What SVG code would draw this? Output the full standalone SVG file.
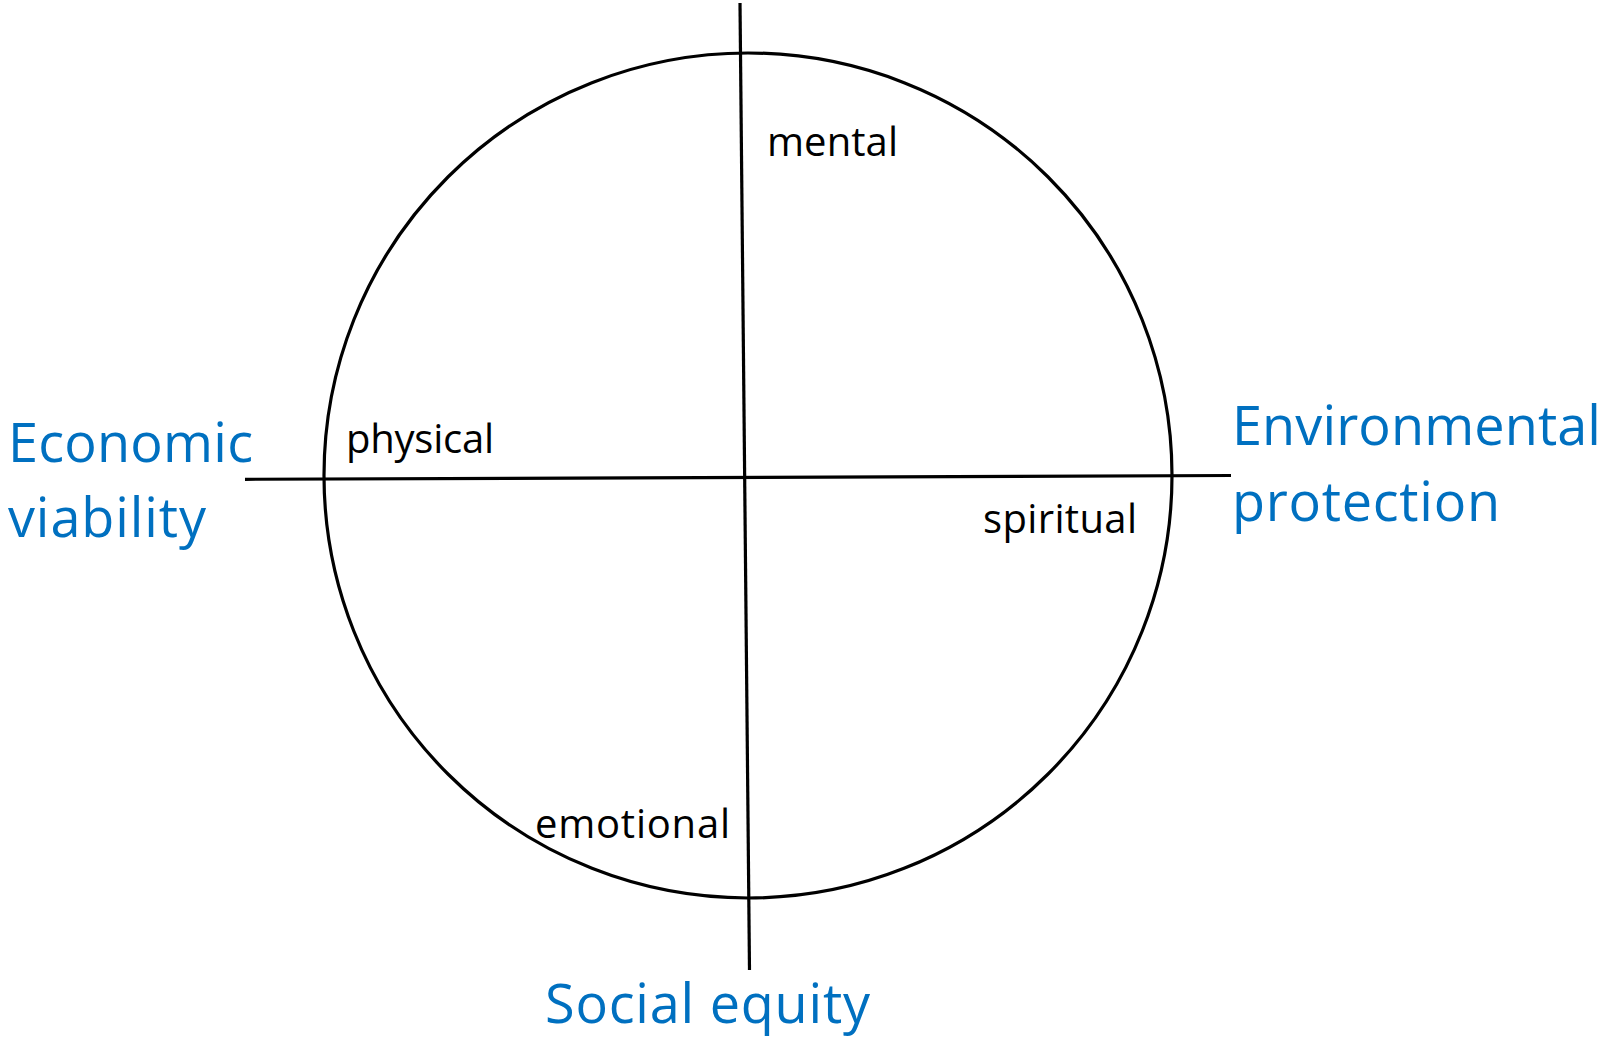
<svg xmlns="http://www.w3.org/2000/svg" width="1604" height="1037" viewBox="0 0 1604 1037">
<style>
.ln{stroke:#000;stroke-width:3.2;fill:none}
.big{font-family:"Open Sans","Noto Sans","Liberation Sans",sans-serif;font-size:54px;fill:#0070C0}
.sm{font-family:"Open Sans","Noto Sans","Liberation Sans",sans-serif;font-size:40px;fill:#000}
</style>
<rect width="1604" height="1037" fill="#fff"/>
<g id="circle">
<ellipse class="ln" cx="748" cy="475.5" rx="424" ry="422.5"/>
</g>
<g id="connectors">
<line class="ln" x1="740" y1="3" x2="749.5" y2="970"/>
<line class="ln" x1="245" y1="479.3" x2="1231" y2="475.5"/>
</g>
<g id="economic"><text class="big" x="8" y="462" textLength="245">Economic</text><text class="big" x="8" y="537" textLength="198">viability</text></g>
<g id="environmental"><text class="big" x="1232" y="445" textLength="369">Environmental</text><text class="big" x="1232" y="521" textLength="268">protection</text></g>
<g id="social"><text class="big" x="545" y="1023" textLength="325">Social equity</text></g>
<g id="mental"><text class="sm" x="767" y="156" textLength="131">mental</text></g>
<g id="physical"><text class="sm" x="346" y="453" textLength="148">physical</text></g>
<g id="spiritual"><text class="sm" x="983" y="533" textLength="154">spiritual</text></g>
<g id="emotional"><text class="sm" x="535" y="838" textLength="195">emotional</text></g>
</svg>
